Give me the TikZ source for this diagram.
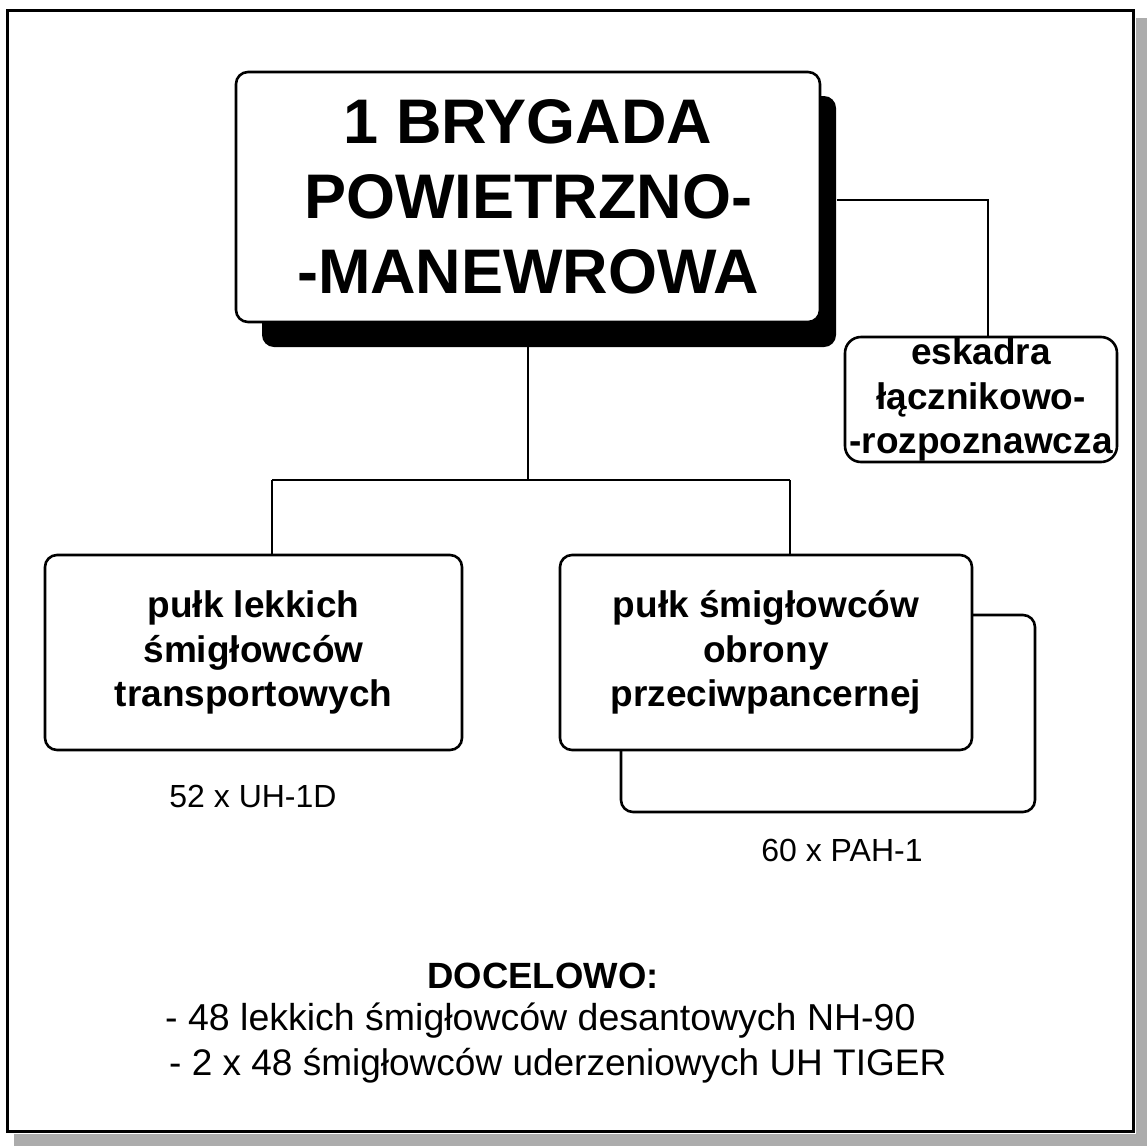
\documentclass[tikz,border=0pt]{standalone}
\usepackage{fontspec}
\setmainfont{Liberation Sans}
\begin{document}
\begin{tikzpicture}[x=1pt,y=-1pt,
  box/.style={draw, line width=2.6pt, rounded corners=12pt, fill=white, inner sep=0pt, align=center},
  conn/.style={line width=1.4pt},
  bigtxt/.style={font=\bfseries\fontsize{63}{75}\selectfont},
  midtxt/.style={font=\bfseries\fontsize{37}{44.5}\selectfont},
  notetxt/.style={font=\fontsize{32}{38}\selectfont, inner sep=0pt},
  bottomtxt/.style={font=\fontsize{37.5}{45}\selectfont, inner sep=0pt, align=center}]
\useasboundingbox (0,0) rectangle (1147,1146);
% page frame with grey shadow
\fill[gray!65] (1136,18) rectangle (1147,1146);
\fill[gray!65] (14,1134) rectangle (1147,1146);
\draw[line width=3pt, fill=white] (7,10) rectangle (1133,1131);
% main box shadow
\fill[rounded corners=12pt] (262,96) rectangle (836,347);
% main box
\node[box, minimum width=584pt, minimum height=250pt, bigtxt] (main) at (528,197)
  {1 BRYGADA\\POWIETRZNO-\\-MANEWROWA};
% eskadra
\node[box, minimum width=272pt, minimum height=125pt, midtxt, rounded corners=16pt] (esk) at (981,399.5)
  {eskadra\\łącznikowo-\\-rozpoznawcza};
% regiments
\node[box, minimum width=417pt, minimum height=195pt, midtxt] (lbox) at (253.5,652.5)
  {pułk lekkich\\śmigłowców\\transportowych};
\node[box, minimum width=414pt, minimum height=197pt] (rback) at (828,713.5) {};
\node[box, minimum width=412pt, minimum height=195pt, midtxt] (rbox) at (766,652.5)
  {pułk śmigłowców\\obrony\\przeciwpancernej};
% connectors
\coordinate (j) at (528,480);
\draw[conn] (main.east |- 0,200) ++(16,0) -| (esk.north -| 988,0);
\draw[conn] (main.south |- 0,347) -- (j);
\draw[conn] (272,480) -- (790,480);
\draw[conn] (272,480) -- (lbox.north -| 272,0);
\draw[conn] (790,480) -- (rbox.north -| 790,0);
% notes
\node[notetxt] (n1) at (253,796) {52 x UH-1D};
\node[notetxt] (n2) at (842,850) {60 x PAH-1};
\node[bottomtxt, font=\bfseries\fontsize{36.5}{45}\selectfont] (doc) at (543,976) {DOCELOWO:};
\node[bottomtxt, anchor=west] (l1) at (165,1021) {- 48 lekkich śmigłowców desantowych NH-90};
\node[bottomtxt, anchor=west, font=\fontsize{37}{45}\selectfont] (l2) at (169,1066) {- 2 x 48 śmigłowców uderzeniowych UH TIGER};
\end{tikzpicture}
\end{document}
